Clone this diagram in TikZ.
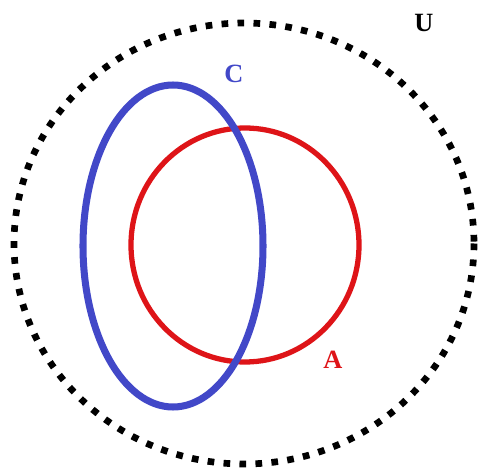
\documentclass[tikz,border=0pt]{standalone}
\usepackage{fontspec}
\setmainfont{Liberation Serif}
\usepackage{xcolor}

\begin{document}
\begin{tikzpicture}[x=0.02cm, y=-0.02cm]
                \definecolor{setBlue}{RGB}{66,72,200}
                \definecolor{setRed}{RGB}{222,20,24}
                \tikzset{
                  setlabel/.style={font=\bfseries\fontsize{15}{17}\selectfont, inner sep=0pt}
                }
                \useasboundingbox (0,0) rectangle (478,470);
                % universe
                \draw[line width=3.8pt, dash pattern=on 3.8pt off 5.3pt]
                  (244,243.5) ellipse [x radius=230, y radius=220.5];
                % set A
                \draw[setRed, line width=3pt] (245,245) ellipse [x radius=114, y radius=117];
                % set C
                \draw[setBlue, line width=4pt] (173,246) ellipse [x radius=90, y radius=161];
                \node[setlabel] (U) at (424,23) {U};
                \node[setlabel, text=setBlue] (C) at (234,74) {C};
                \node[setlabel, text=setRed] (A) at (333,360) {A};
              \end{tikzpicture}
\end{document}
